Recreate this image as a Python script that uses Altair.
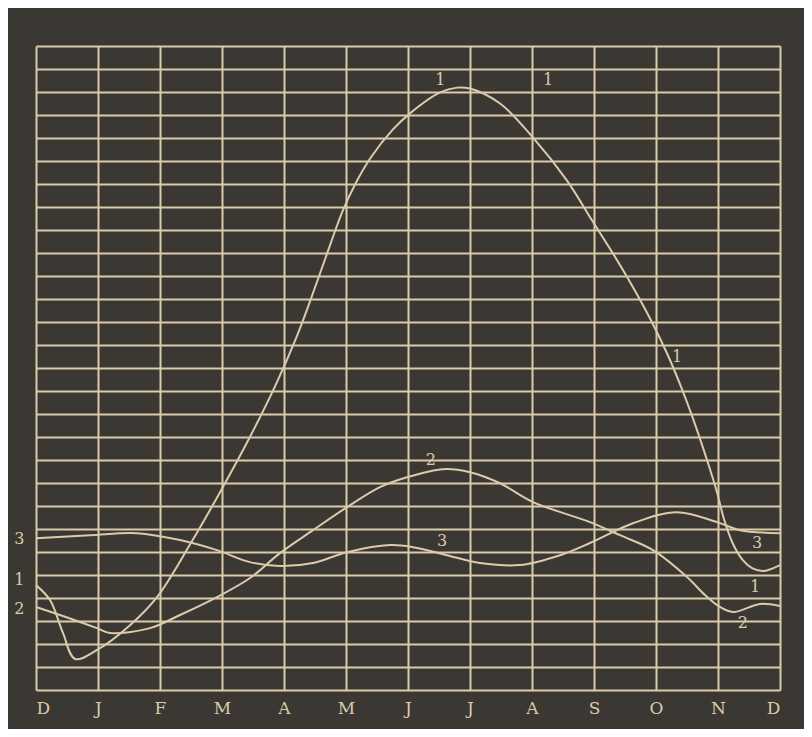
import altair as alt
import pandas as pd

# Month tick labels along the bottom (13 grid lines, Dec to Dec)
month_labels = ["D", "J", "F", "M", "A", "M", "J", "J", "A", "S", "O", "N", "D"]

# Curve 1 (x in months from December, y in grid units)
c1_x = [0, 0.226, 0.435, 0.629, 0.984, 1.516, 1.952, 2.5, 2.968, 3.45, 3.855, 4.21, 4.5,
        4.75, 4.95, 5.15, 5.4, 5.75, 6.032, 6.516, 6.790, 7.0, 7.484, 8.016, 8.565, 8.968,
        9.306, 9.629, 9.935, 10.177, 10.387, 10.597, 10.823, 10.984, 11.1, 11.242, 11.4,
        11.55, 11.726, 12.0]
c1_y = [4.56, 3.91, 2.48, 1.35, 1.74, 2.82, 4.04, 6.4, 8.6, 11.0, 13.2, 15.4, 17.5,
        19.4, 20.85, 22.0, 23.15, 24.35, 25.07, 25.98, 26.19, 26.15, 25.50, 24.02, 22.15, 20.42,
        18.98, 17.51, 15.99, 14.64, 13.3, 11.8, 10.0, 8.6, 7.4, 6.35, 5.65,
        5.3, 5.17, 5.43]

# Curve 2
c2_x = [0, 0.387, 0.984, 1.194, 1.839, 2.323, 2.919, 3.452, 3.935, 4.468, 5.016, 5.548, 5.984,
        6.565, 7.0, 7.484, 8.016, 8.935, 9.419, 9.952, 10.5, 10.79, 11.032, 11.242, 11.677, 12.0]
c2_y = [3.61, 3.26, 2.69, 2.48, 2.69, 3.26, 4.04, 4.87, 5.95, 6.95, 7.95, 8.82, 9.25,
        9.60, 9.47, 8.99, 8.17, 7.30, 6.73, 6.08, 4.91, 4.13, 3.61, 3.39, 3.74, 3.65]

# Curve 3
c3_x = [0, 0.871, 1.629, 2.323, 2.919, 3.452, 3.935, 4.468, 5.016, 5.710, 6.081, 6.629, 7.161,
        7.806, 8.452, 8.935, 9.629, 10.339, 10.984, 11.355, 12.0]
c3_y = [6.60, 6.73, 6.82, 6.52, 6.08, 5.56, 5.39, 5.52, 5.99, 6.30, 6.21, 5.86, 5.52,
        5.43, 5.86, 6.39, 7.25, 7.73, 7.30, 6.95, 6.82]

# Curve number annotations
lbl_text = ["1", "1", "1", "1", "2", "2", "3", "3", "3", "1", "2"]
lbl_x = [6.52, 8.26, 10.34, 11.6, 6.37, 11.4, 6.55, 11.63, -0.27, -0.27, -0.27]
lbl_y = [26.54, 26.54, 14.47, 4.47, 9.99, 2.91, 6.47, 6.39, 6.56, 4.78, 3.52]

BOARD = "#3b3733"
CHALK = "#dccbab"

rows = []
for name, xs, ys in [("1", c1_x, c1_y), ("2", c2_x, c2_y), ("3", c3_x, c3_y)]:
    for i, (a, b) in enumerate(zip(xs, ys)):
        rows.append({"series": name, "order": i, "x": a, "y": b})
curves = pd.DataFrame(rows)
labels = pd.DataFrame({"text": lbl_text, "x": lbl_x, "y": lbl_y})

label_expr = "[" + ",".join("'" + m + "'" for m in month_labels) + "][datum.value]"

xscale = alt.Scale(domain=[0, 12], nice=False, zero=False)
yscale = alt.Scale(domain=[0, 28], nice=False, zero=False)

xaxis = alt.Axis(values=list(range(13)), labelExpr=label_expr, grid=True, gridColor=CHALK,
                 gridWidth=2, gridOpacity=1, ticks=False, domain=False, title=None,
                 labelColor=CHALK, labelFont="DejaVu Serif", labelFontSize=17,
                 labelPadding=10, labelBaseline="top", labelOverlap=False)
yaxis = alt.Axis(values=list(range(29)), grid=True, gridColor=CHALK, gridWidth=2,
                 gridOpacity=1, ticks=False, domain=False, labels=False, title=None,
                 tickCount=29)

lines = alt.Chart(curves).mark_line(interpolate="catmull-rom", color=CHALK, strokeWidth=2).encode(
    x=alt.X("x:Q", scale=xscale, axis=xaxis),
    y=alt.Y("y:Q", scale=yscale, axis=yaxis),
    detail="series:N",
    order="order:Q",
)

texts = alt.Chart(labels).mark_text(color=CHALK, font="DejaVu Serif", fontSize=16).encode(
    x=alt.X("x:Q", scale=xscale, axis=xaxis),
    y=alt.Y("y:Q", scale=yscale, axis=yaxis),
    text="text:N",
)

chart = alt.layer(lines, texts).properties(
    width=744, height=644,
    autosize=alt.AutoSizeParams(type="none"),
    padding={"left": 28, "top": 38, "right": 24, "bottom": 39},
    background=BOARD,
).configure_view(stroke=None)

chart.save("out.html", embed_options={"renderer": "svg", "actions": False})
